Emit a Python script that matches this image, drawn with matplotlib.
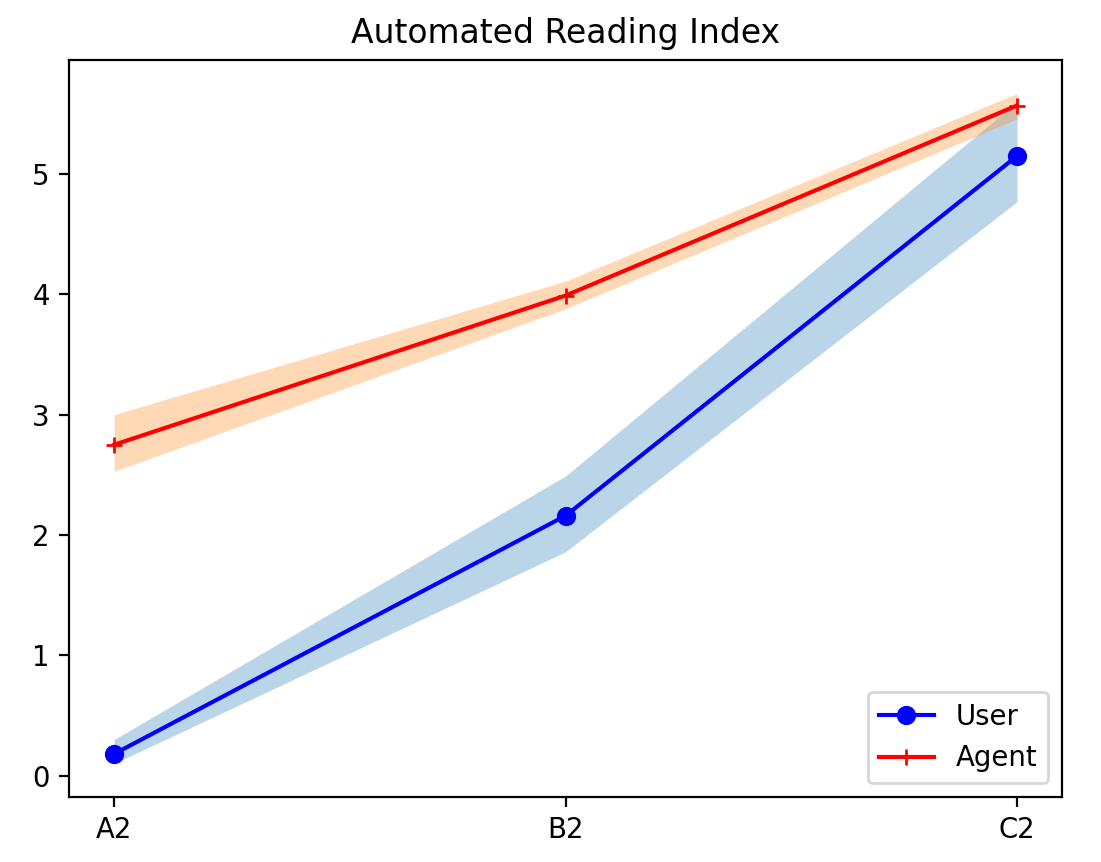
import matplotlib
matplotlib.use('Agg')
import matplotlib.pyplot as plt

levels = ['A2', 'B2', 'C2']

user_mean = [0.18, 2.16, 5.15]
user_low = [0.10, 1.86, 4.77]
user_high = [0.30, 2.49, 5.60]

agent_mean = [2.75, 3.99, 5.57]
agent_low = [2.53, 3.88, 5.46]
agent_high = [3.00, 4.11, 5.67]

dpi = 198
fig = plt.figure(figsize=(1101 / dpi, 862 / dpi), dpi=dpi)
ax = fig.add_axes([0.0627, 0.0754, 0.902, 0.855])

x = range(len(levels))
ax.plot(x, user_mean, 'b-o', label='User')
ax.fill_between(x, user_low, user_high, color='C0', alpha=0.3, linewidth=0)
ax.plot(x, agent_mean, 'r-+', label='Agent')
ax.fill_between(x, agent_low, agent_high, color='C1', alpha=0.3, linewidth=0)

ax.set_xticks(list(x))
ax.set_xticklabels(levels)
ax.set_title('Automated Reading Index')
ax.legend(loc='lower right')

fig.savefig('out.png', dpi=dpi)
